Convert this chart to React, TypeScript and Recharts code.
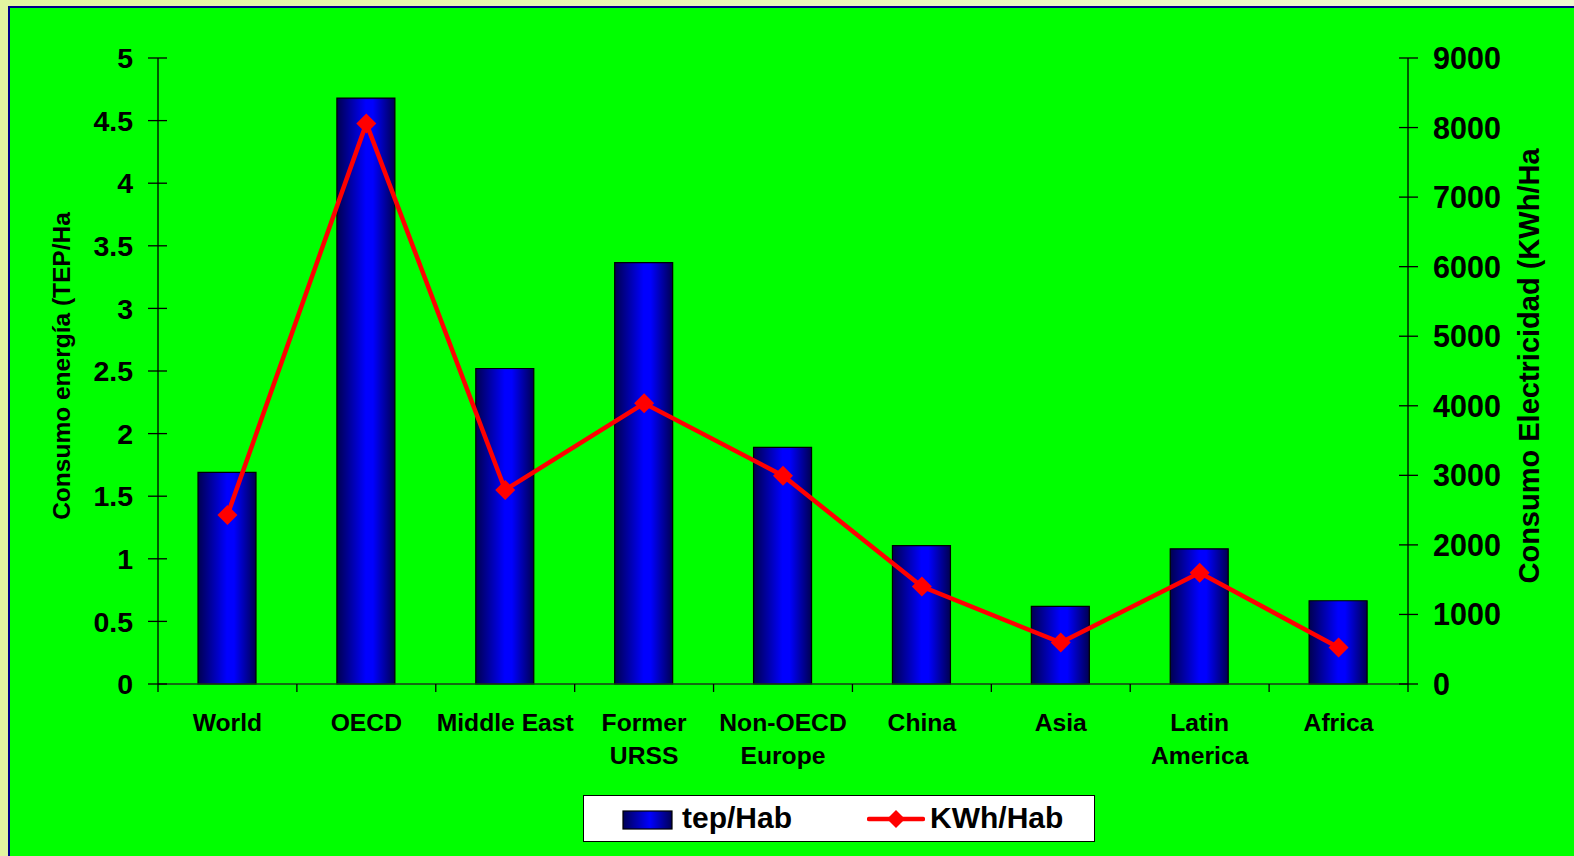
import {
  ComposedChart,
  Bar,
  Line,
  XAxis,
  YAxis,
  Legend,
  Label,
} from "recharts";

const categories = [
  "World",
  "OECD",
  "Middle East",
  "Former URSS",
  "Non-OECD Europe",
  "China",
  "Asia",
  "Latin America",
  "Africa",
];
const tickLabels = [
  ["World"],
  ["OECD"],
  ["Middle East"],
  ["Former", "URSS"],
  ["Non-OECD", "Europe"],
  ["China"],
  ["Asia"],
  ["Latin", "America"],
  ["Africa"],
];
const tepPerHab = [1.69, 4.68, 2.52, 3.365, 1.89, 1.105, 0.62, 1.08, 0.665];
const kwhPerHab = [2430, 8060, 2790, 4035, 2995, 1400, 595, 1600, 525];
const leftTicks = [0, 0.5, 1, 1.5, 2, 2.5, 3, 3.5, 4, 4.5, 5];
const rightTicks = [0, 1000, 2000, 3000, 4000, 5000, 6000, 7000, 8000, 9000];

const data = categories.map((name, i) => ({
  name,
  tep: tepPerHab[i],
  kwh: kwhPerHab[i],
}));

const FONT = "'Liberation Sans', Arial, sans-serif";
const W = 1574;
const H = 856;
const PLOT_W = 1250;
const BAND = PLOT_W / categories.length;

const LeftTick = (props: any) => {
  const { x, y, payload } = props;
  return (
    <g>
      <line x1={x - 10} x2={x + 9} y1={y} y2={y} stroke="#000" strokeWidth={1.3} />
      <text
        x={x - 25}
        y={y}
        dy="0.36em"
        textAnchor="end"
        fontFamily={FONT}
        fontWeight="bold"
        fontSize={28.5}
        fill="#000">
        {payload.value}
      </text>
    </g>
  );
};

const RightTick = (props: any) => {
  const { x, y, payload } = props;
  return (
    <g>
      <line x1={x - 9} x2={x + 10} y1={y} y2={y} stroke="#000" strokeWidth={1.3} />
      <text
        x={x + 25}
        y={y}
        dy="0.36em"
        textAnchor="start"
        fontFamily={FONT}
        fontWeight="bold"
        fontSize={30.5}
        fill="#000">
        {payload.value}
      </text>
    </g>
  );
};

const CategoryTick = (props: any) => {
  const { x, y, index } = props;
  const lines = tickLabels[index] || [];
  const last = index === categories.length - 1;
  return (
    <g>
      <line x1={x - BAND / 2} x2={x - BAND / 2} y1={y} y2={y + 8} stroke="#000" strokeWidth={1.3} />
      {last && (
        <line x1={x + BAND / 2} x2={x + BAND / 2} y1={y} y2={y + 8} stroke="#000" strokeWidth={1.3} />
      )}
      {lines.map((t: string, k: number) => (
        <text
          key={k}
          x={x}
          y={y + 47 + k * 33}
          textAnchor="middle"
          fontFamily={FONT}
          fontWeight="bold"
          fontSize={24.7}
          fill="#000">
          {t}
        </text>
      ))}
    </g>
  );
};

const Diamond = (props: any) => {
  const { cx, cy } = props;
  if (cx == null || cy == null) return null;
  const r = 10;
  return (
    <polygon
      points={`${cx},${cy - r} ${cx + r},${cy} ${cx},${cy + r} ${cx - r},${cy}`}
      fill="#ff0000"
    />
  );
};

const axisTitle = (text: string, dxFromLeft: number, size: number, fallback: any) => (props: any) => {
  const vb = props.viewBox || fallback;
  const cx = vb.x + dxFromLeft;
  const cy = vb.y + vb.height / 2 - 5;
  return (
    <text
      x={cx}
      y={cy}
      transform={`rotate(-90, ${cx}, ${cy})`}
      textAnchor="middle"
      dominantBaseline="central"
      fontFamily={FONT}
      fontWeight="bold"
      fontSize={size}
      fill="#000">
      {text}
    </text>
  );
};

const LegendBox = () => (
  <div
    style={{
      position: "relative",
      width: 512,
      height: 47,
      boxSizing: "border-box",
      background: "#fff",
      border: "1.5px solid #000",
      fontFamily: FONT,
      fontWeight: "bold",
      fontSize: 30,
      color: "#000",
    }}>
    <svg width={52} height={21} style={{ position: "absolute", left: 38, top: 14 }}>
      <defs>
        <linearGradient id="legGrad" x1="0" y1="0" x2="1" y2="0">
          <stop offset="0%" stopColor="#000055" />
          <stop offset="55%" stopColor="#0000ff" />
          <stop offset="100%" stopColor="#000055" />
        </linearGradient>
      </defs>
      <rect x={1} y={1} width={49} height={18} fill="url(#legGrad)" stroke="#000" strokeWidth={1.2} />
    </svg>
    <span style={{ position: "absolute", left: 98, top: 6, lineHeight: "32px" }}>tep/Hab</span>
    <svg width={58} height={24} style={{ position: "absolute", left: 283, top: 11 }}>
      <line x1={2} x2={56} y1={12} y2={12} stroke="#ff0000" strokeWidth={4.5} strokeLinecap="round" />
      <polygon points="29,3 38,12 29,21 20,12" fill="#ff0000" />
    </svg>
    <span style={{ position: "absolute", left: 346, top: 6, lineHeight: "32px" }}>KWh/Hab</span>
  </div>
);

export default function App() {
  return (
    <div
      style={{
        position: "absolute",
        left: 0,
        top: 0,
        width: W,
        height: H,
        overflow: "hidden",
        background: "linear-gradient(90deg, #e2f5a0 0%, #eef9d0 100%)",
      }}>
      <div
        style={{
          position: "absolute",
          left: 8,
          top: 6,
          width: 1600,
          height: 900,
          background: "#00ff00",
          border: "2px solid #00008b",
        }}
      />
      <div style={{ position: "absolute", left: 0, top: 0 }}>
        <ComposedChart
          width={W}
          height={H}
          data={data}
          margin={{ top: 58, right: 0, bottom: 72, left: 0 }}>
          <defs>
            <linearGradient id="barGrad" x1="0" y1="0" x2="1" y2="0">
              <stop offset="0%" stopColor="#000050" />
              <stop offset="50%" stopColor="#0000ff" />
              <stop offset="62%" stopColor="#0000ff" />
              <stop offset="100%" stopColor="#000050" />
            </linearGradient>
          </defs>
          <XAxis
            dataKey="name"
            height={100}
            interval={0}
            tickSize={0}
            tickMargin={0}
            tickLine={false}
            axisLine={{ stroke: "#1a3a1a", strokeWidth: 1.5 }}
            tick={<CategoryTick />}
          />
          <YAxis
            yAxisId="l"
            orientation="left"
            width={158}
            domain={[0, 5]}
            ticks={leftTicks}
            interval={0}
            tickSize={0}
            tickMargin={0}
            tickLine={false}
            axisLine={{ stroke: "#000", strokeWidth: 1.3 }}
            tick={<LeftTick />}>
            <Label
              content={axisTitle("Consumo energía (TEP/Ha", 61, 24.5, {
                x: 0,
                y: 58,
                width: 158,
                height: 626,
              })}
            />
          </YAxis>
          <YAxis
            yAxisId="r"
            orientation="right"
            width={166}
            domain={[0, 9000]}
            ticks={rightTicks}
            interval={0}
            tickSize={0}
            tickMargin={0}
            tickLine={false}
            axisLine={{ stroke: "#000", strokeWidth: 1.3 }}
            tick={<RightTick />}>
            <Label
              content={axisTitle("Consumo Electricidad (KWh/Ha", 121, 29, {
                x: 1408,
                y: 58,
                width: 166,
                height: 626,
              })}
            />
          </YAxis>
          <Legend
            layout="horizontal"
            verticalAlign="middle"
            align="center"
            content={<LegendBox />}
            wrapperStyle={{ left: 583, top: 795, width: 512, height: 47 }}
          />
          <Bar
            yAxisId="l"
            dataKey="tep"
            name="tep/Hab"
            barSize={58}
            fill="url(#barGrad)"
            stroke="#000"
            strokeWidth={1.2}
            isAnimationActive={false}
          />
          <Line
            yAxisId="r"
            dataKey="kwh"
            name="KWh/Hab"
            type="linear"
            stroke="#ff0000"
            strokeWidth={4.5}
            dot={<Diamond />}
            activeDot={false}
            isAnimationActive={false}
          />
        </ComposedChart>
      </div>
    </div>
  );
}
